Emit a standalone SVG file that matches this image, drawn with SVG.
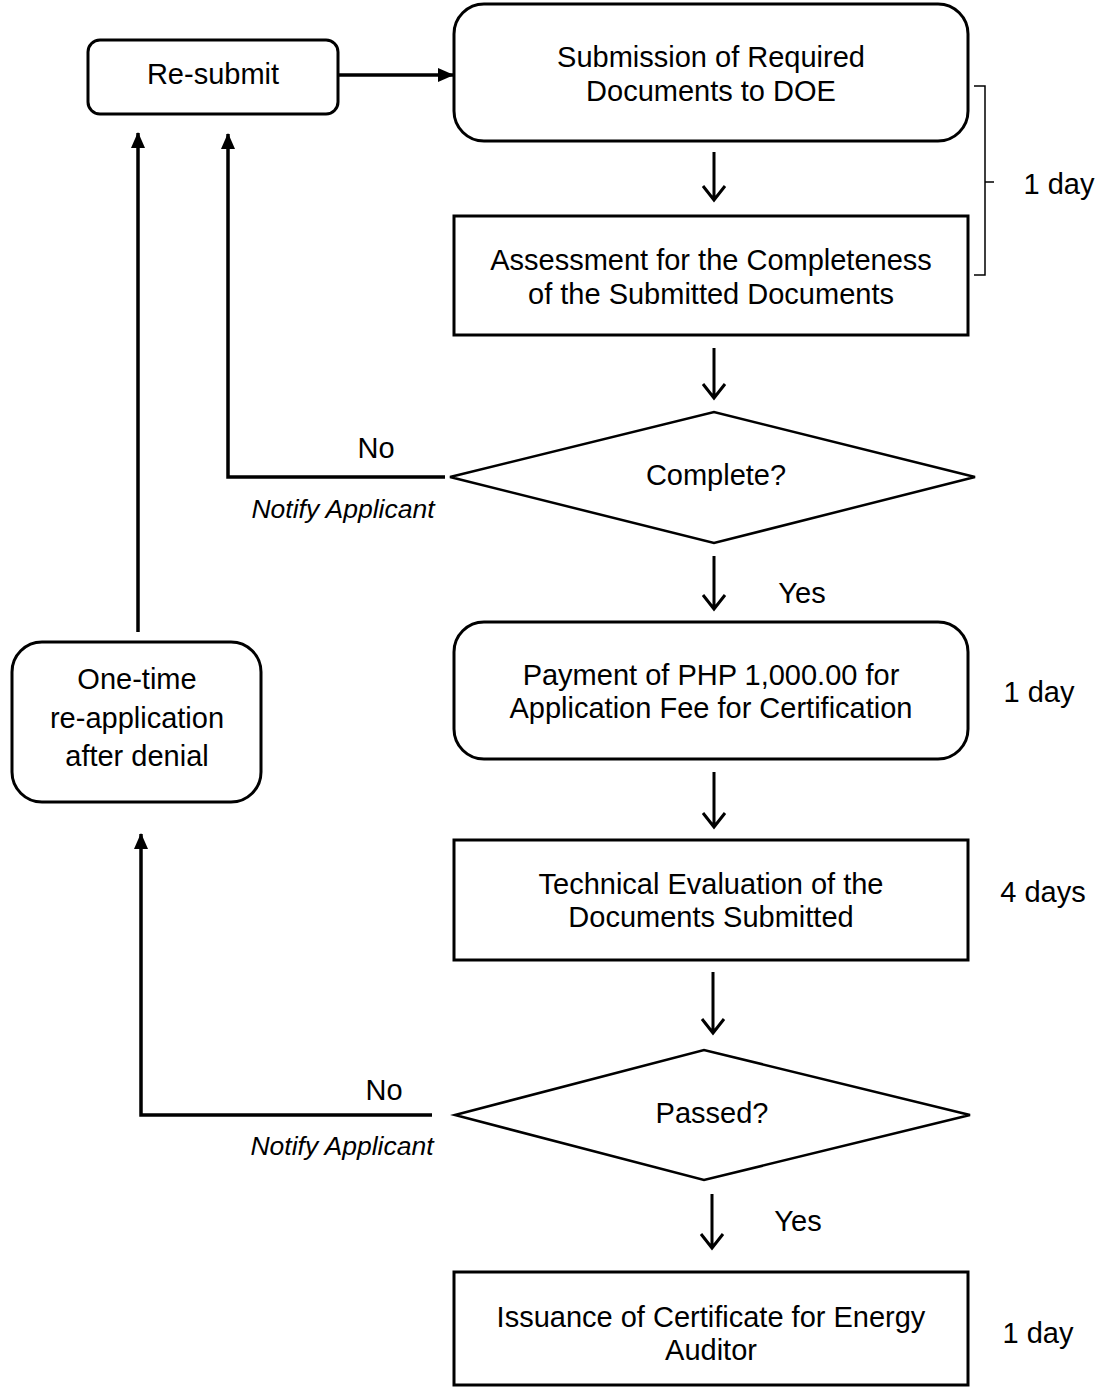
<svg xmlns="http://www.w3.org/2000/svg" width="1101" height="1393" viewBox="0 0 1101 1393">
<style>
.box{fill:#fff;stroke:#000;stroke-width:3}
.dia{fill:#fff;stroke:#000;stroke-width:2.5}
.t{font-family:"Liberation Sans",Arial,sans-serif;font-size:29px;fill:#000;text-anchor:middle}
.ti{font-family:"Liberation Sans",Arial,sans-serif;font-size:26.5px;font-style:italic;fill:#000;text-anchor:middle}
.ln{fill:none;stroke:#000;stroke-width:3.5}
.dn{fill:none;stroke:#000;stroke-width:3}
.br{fill:none;stroke:#000;stroke-width:1.5}
</style>
<defs>
<marker id="tri2" markerWidth="16" markerHeight="16" refX="15" refY="8" orient="auto" markerUnits="userSpaceOnUse" viewBox="0 0 16 16">
<path d="M0,1 L16,8 L0,15 z" fill="#000"/>
</marker>
</defs>
<g id="connectors">
<line class="ln" x1="338" y1="75" x2="453" y2="75" marker-end="url(#tri2)"/>
<polyline class="ln" points="445,477 228,477 228,134" marker-end="url(#tri2)"/>
<line class="ln" x1="138" y1="632" x2="138" y2="133" marker-end="url(#tri2)"/>
<polyline class="ln" points="432,1115 141,1115 141,834" marker-end="url(#tri2)"/>
<g class="dn">
<path d="M714,152 V200 M703,186 L714,200 L725,186"/>
<path d="M714,348 V398 M703,384 L714,398 L725,384"/>
<path d="M714,556 V609 M703,595 L714,609 L725,595"/>
<path d="M714,772 V827 M703,813 L714,827 L725,813"/>
<path d="M713,972 V1033 M702,1019 L713,1033 L724,1019"/>
<path d="M712,1194 V1248 M701,1234 L712,1248 L723,1234"/>
</g>
<path class="br" d="M974,86 H985 V275 H974 M985,182 L994,182"/>
</g>
<g id="resubmit">
<rect class="box" x="88" y="40" width="250" height="74" rx="12"/>
<text class="t" x="213" y="84">Re-submit</text>
</g>
<g id="submission">
<rect class="box" x="454" y="4" width="514" height="137" rx="30"/>
<text class="t" x="711" y="67">Submission of Required</text>
<text class="t" x="711" y="101">Documents to DOE</text>
</g>
<g id="assessment">
<rect class="box" x="454" y="216" width="514" height="119"/>
<text class="t" x="711" y="270">Assessment for the Completeness</text>
<text class="t" x="711" y="304">of the Submitted Documents</text>
</g>
<g id="complete">
<polygon class="dia" points="450,477 714,412 975,477 714,543"/>
<text class="t" x="716" y="485">Complete?</text>
</g>
<g id="payment">
<rect class="box" x="454" y="622" width="514" height="137" rx="30"/>
<text class="t" x="711" y="685">Payment of PHP 1,000.00 for</text>
<text class="t" x="711" y="718">Application Fee for Certification</text>
</g>
<g id="technical">
<rect class="box" x="454" y="840" width="514" height="120"/>
<text class="t" x="711" y="894">Technical Evaluation of the</text>
<text class="t" x="711" y="927">Documents Submitted</text>
</g>
<g id="passed">
<polygon class="dia" points="455,1115 704,1050 970,1115 704,1180"/>
<text class="t" x="712" y="1123">Passed?</text>
</g>
<g id="issuance">
<rect class="box" x="454" y="1272" width="514" height="113"/>
<text class="t" x="711" y="1327">Issuance of Certificate for Energy</text>
<text class="t" x="711" y="1360">Auditor</text>
</g>
<g id="reapply">
<rect class="box" x="12" y="642" width="249" height="160" rx="30"/>
<text class="t" x="137" y="689">One-time</text>
<text class="t" x="137" y="728">re-application</text>
<text class="t" x="137" y="766">after denial</text>
</g>
<g id="labels">
<text class="t" x="1059" y="194">1 day</text>
<text class="t" x="376" y="458">No</text>
<text class="ti" x="343" y="518">Notify Applicant</text>
<text class="t" x="802" y="603">Yes</text>
<text class="t" x="1039" y="702">1 day</text>
<text class="t" x="1043" y="902">4 days</text>
<text class="t" x="384" y="1100">No</text>
<text class="ti" x="342" y="1155">Notify Applicant</text>
<text class="t" x="798" y="1231">Yes</text>
<text class="t" x="1038" y="1343">1 day</text>
</g>
</svg>
